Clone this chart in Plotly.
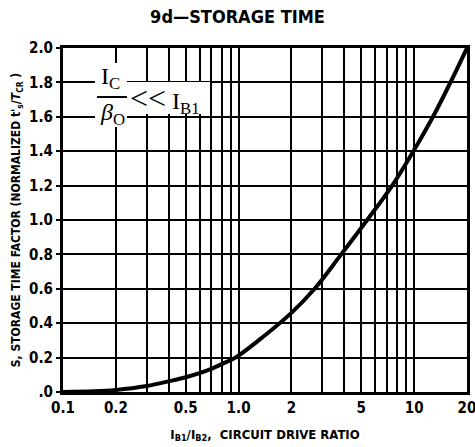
import plotly.graph_objects as go

# ---- data ----
drive_ratio = [0.1, 0.15, 0.2, 0.3, 0.4, 0.5, 0.7, 0.8, 0.96, 1.3, 2.0, 2.71, 3.84, 5.4, 7.5, 9.9, 12.8, 16.1, 20]
storage_factor = [0.0, 0.004, 0.012, 0.035, 0.062, 0.086, 0.135, 0.162, 0.2, 0.3, 0.46, 0.6, 0.8, 1.0, 1.2, 1.4, 1.6, 1.8, 2.0]

x_grid = [0.1, 0.2, 0.3, 0.4, 0.5, 0.6, 0.7, 0.8, 0.9, 1, 2, 3, 4, 5, 6, 7, 8, 9, 10, 20]
x_labels = {0.1: "0.1", 0.2: "0.2", 0.5: "0.5", 1: "1.0", 2: "2", 5: "5", 10: "10", 20: "20"}
y_ticks = [0.0, 0.2, 0.4, 0.6, 0.8, 1.0, 1.2, 1.4, 1.6, 1.8, 2.0]
y_labels = [".0", "0.2", "0.4", "0.6", "0.8", "1.0", "1.2", "1.4", "1.6", "1.8", "2.0"]

W, H = 475, 447
L, R, T, B = 63, 8, 48, 55
PW, PH = W - L - R, H - T - B

def px(x):  # pixel x -> paper
    return (x - L) / PW

def py(y):  # pixel y -> paper
    return (H - B - y) / PH

SANS = "DejaVu Sans Condensed, Liberation Sans Narrow, Arial Narrow, DejaVu Sans, Arial"
SERIF = "Liberation Serif, DejaVu Serif, Times New Roman, serif"

fig = go.Figure()
fig.add_trace(go.Scatter(
    x=drive_ratio, y=storage_factor, mode="lines",
    line=dict(color="black", width=4, shape="spline", smoothing=1.0),
    showlegend=False, hoverinfo="skip",
))

fig.update_layout(
    template="none",
    width=W, height=H,
    margin=dict(l=L, r=R, t=T, b=B, autoexpand=False),
    paper_bgcolor="white", plot_bgcolor="white",
    title=dict(text="9d\u2014STORAGE TIME", x=px((L + W - R) / 2), xanchor="center",
               y=1 - 17 / H, yanchor="middle",
               font=dict(family=SANS, size=18, color="black", weight="bold")),
    font=dict(family=SANS, color="black"),
)

fig.update_xaxes(
    type="log", range=[-1, 1.30103], automargin=False,
    tickvals=x_grid, ticktext=[x_labels.get(v, "") for v in x_grid],
    ticklabeloverflow="allow",
    showgrid=True, gridcolor="black", gridwidth=1.6,
    showline=True, linecolor="black", linewidth=3, mirror=True,
    ticks="", zeroline=False,
    tickfont=dict(family=SANS, size=15, color="black", weight="bold"),
    title=dict(text="I<sub>B1</sub>/I<sub>B2</sub>,  CIRCUIT DRIVE RATIO", standoff=14,
               font=dict(family=SANS, size=13, color="black", weight="bold")),
)
fig.update_yaxes(
    range=[0, 2.0], automargin=False,
    tickvals=y_ticks, ticktext=y_labels,
    showgrid=True, gridcolor="black", gridwidth=1.6,
    showline=True, linecolor="black", linewidth=3, mirror=True,
    ticks="outside", ticklen=4, tickwidth=1.5, tickcolor="black", zeroline=False,
    tickfont=dict(family=SANS, size=15, color="black", weight="bold"),
    title=dict(text="S, STORAGE TIME FACTOR (NORMALIZED t'<sub>s</sub>/<i>T</i><sub>CR</sub> )", standoff=6,
               font=dict(family=SANS, size=12, color="black", weight="bold")),
)

# white masks behind the formula
fig.add_shape(type="rect", xref="paper", yref="paper",
              x0=px(95), x1=px(127), y0=py(127), y1=py(63),
              fillcolor="white", line=dict(width=0), layer="above")
fig.add_shape(type="rect", xref="paper", yref="paper",
              x0=px(127), x1=px(210), y0=py(114), y1=py(82),
              fillcolor="white", line=dict(width=0), layer="above")
# fraction bar
fig.add_shape(type="line", xref="paper", yref="paper",
              x0=px(97), x1=px(127), y0=py(97), y1=py(97),
              line=dict(color="black", width=2), layer="above")

fig.add_annotation(xref="paper", yref="paper", x=px(100), xanchor="left",
                   y=py(94), yanchor="bottom",
                   text="I<sub>C</sub>", showarrow=False, borderpad=0,
                   font=dict(family=SERIF, size=24, color="black"))
fig.add_annotation(xref="paper", yref="paper", x=px(99), xanchor="left",
                   y=py(98), yanchor="top",
                   text="<i>β</i><sub>O</sub>", showarrow=False, borderpad=0,
                   font=dict(family=SERIF, size=24, color="black"))
fig.add_annotation(xref="paper", yref="paper", x=px(129), xanchor="left",
                   y=py(99), yanchor="middle",
                   text="<span style='font-size:32px'>&lt;&lt;</span> I<sub>B1</sub>",
                   showarrow=False, borderpad=0,
                   font=dict(family=SERIF, size=24, color="black"))

fig.write_html("out.html")
